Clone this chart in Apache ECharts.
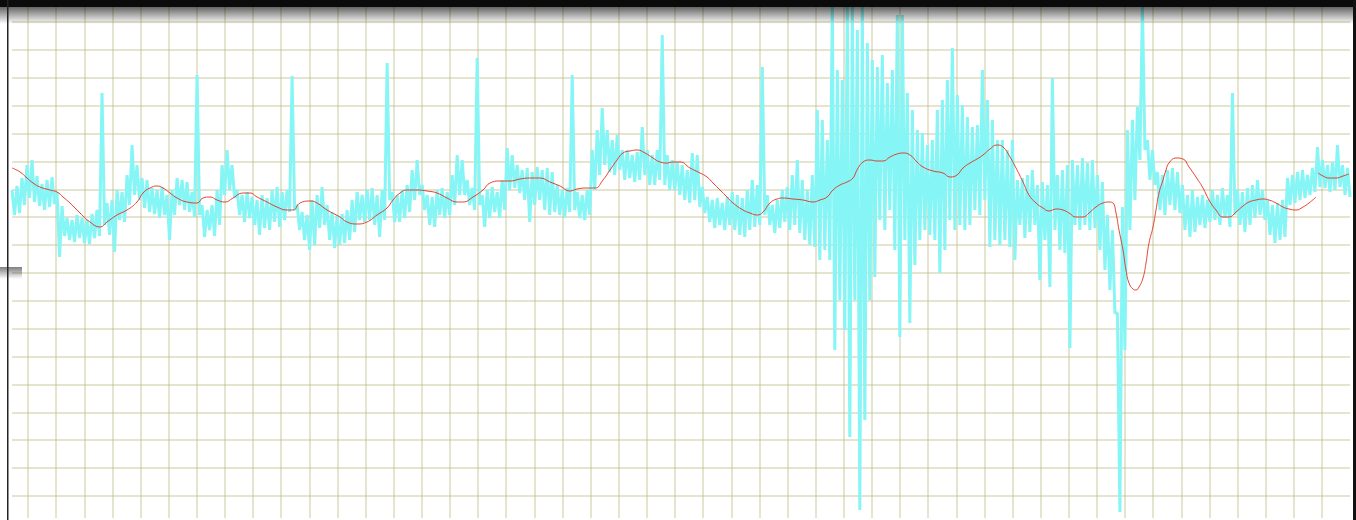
<!DOCTYPE html>
<html><head><meta charset="utf-8">
<script src="https://cdn.jsdelivr.net/npm/echarts/dist/echarts.min.js"></script>
<style>html,body{margin:0;padding:0;background:#fff;}#c{width:1356px;height:520px;}</style>
</head><body><div id="c"></div>
<script>
// Noisy signal: upper and lower envelope per sample (amplitude counts)
const cyanHigh = [
306,310,318,331,336,320,312,316,319,304,
290,278,276,281,278,276,282,286,403,293,
296,306,304,321,351,331,318,316,308,306,
309,301,306,318,316,314,304,421,291,286,
291,306,331,346,331,306,301,304,299,296,
301,298,306,309,304,306,420,291,284,281,
296,301,309,291,284,281,282,286,296,304,
301,306,308,301,306,433,304,301,306,311,
326,336,311,301,299,306,308,304,321,341,
336,316,308,438,301,306,309,304,316,348,
341,331,326,328,324,329,326,328,324,311,
306,308,421,304,301,306,346,366,388,366,
356,361,346,346,341,344,369,346,341,346,
461,341,336,334,331,326,343,341,309,299,
296,298,293,299,304,301,298,306,316,311,
429,301,291,296,306,309,321,336,316,306,
321,386,376,356,491,426,416,491,491,466,
491,453,436,429,441,413,426,481,481,403,
386,366,363,351,356,386,396,416,448,401,
391,379,369,371,426,396,376,356,356,346,
356,316,318,321,326,311,314,311,418,321,
326,331,336,331,338,333,336,321,314,281,
266,183,289,366,376,389,491,356,346,324,
321,326,328,324,311,301,306,299,301,296,
306,301,308,301,403,306,304,308,311,316,
306,296,291,293,296,318,321,324,326,321,
328,349,336,331,334,351,331,328
];
const cyanLow = [
281,283,291,298,294,290,286,289,292,239,
260,256,254,258,253,252,258,260,271,261,
244,276,274,291,301,296,288,284,282,278,
281,256,281,291,286,284,279,281,259,266,
260,271,301,306,298,281,274,278,271,261,
268,266,274,269,276,284,286,266,256,246,
251,268,271,256,248,251,253,256,264,276,
274,276,271,259,276,296,274,274,278,284,
296,301,286,271,269,281,278,281,291,301,
301,291,286,291,269,278,284,278,286,306,
308,303,296,274,291,296,286,281,284,281,
279,284,286,278,276,281,306,321,331,324,
321,326,316,318,314,316,321,311,311,316,
311,306,306,301,296,293,296,289,283,274,
268,271,266,271,266,261,259,266,269,271,
281,271,263,268,274,266,271,263,256,251,
249,236,246,236,146,196,166,59,196,-14,
76,196,219,276,266,286,246,159,256,173,
231,256,266,261,256,223,246,276,266,271,
266,271,286,281,296,249,256,251,256,249,
236,271,258,264,271,216,256,209,266,246,
243,148,271,266,271,266,268,246,226,206,
183,-16,146,266,296,336,346,316,311,286,
281,291,286,283,266,259,264,271,268,274,
276,271,278,269,281,271,264,271,278,281,
276,261,253,256,259,291,293,296,298,301,
304,309,308,304,306,309,301,299
];
// Smoothed trend: sample number and amplitude (null = gap)
const redX = [0,8,15,21,28,38,45,51,58,68,78,88,95,105,115,125,131,138,145,151,158,165,175,185,191,198,205,213,221,231,238,245,255,265,275,281,288,298,305,315,328,335,345,355,365,375,381,388,395,405,415,425,435,445,451,461,471,478,488,498,508,518,528,538,548,558,565,575,583,591,598,605,611,618,625,633,641,648,655,661,668,678,688,695,701,708,715,721,731,738,745,751,758,765,771,781,791,801,808,815,821,828,835,841,845,851,858,865,871,878,885,891,898,905,911,921,931,938,945,951,958,965,971,978,985,991,998,1004,1011,1017,1024,1031,1037,1044,1051,1057,1064,1071,1077,1084,1091,1097,1101,1104,1107,1111,1114,1117,1121,1124,1127,1131,1134,1137,1141,1144,1147,1151,1154,1157,1164,1171,1177,1184,1191,1197,1204,1211,1217,1224,1231,1237,1244,1251,1257,1264,1271,1277,1284,1291,1297,1304,1305,1306,1311,1317,1324,1331,1337];
const redY = [328,324,318,313,309,306,304,299,293,283,274,269,274,281,286,294,303,308,310,308,303,298,294,293,298,299,296,294,298,303,303,299,294,289,286,286,293,295,293,286,279,274,272,274,281,288,296,303,306,306,305,303,298,294,294,299,306,313,315,315,317,318,318,314,310,305,307,308,308,316,326,336,343,345,346,343,338,334,333,334,334,328,323,319,313,306,299,293,286,283,281,284,293,297,298,297,296,294,296,299,306,311,314,318,326,334,336,335,335,339,342,343,341,334,329,325,323,319,321,328,333,337,341,347,351,349,339,328,314,301,293,288,285,287,286,283,279,279,283,289,293,294,293,283,266,246,226,213,207,206,209,218,233,253,269,286,303,316,326,333,338,337,329,319,308,296,286,279,279,284,290,294,296,297,296,293,289,287,286,289,293,299,null,323,320,318,318,320,322];
const hDivisions = 17;
const vDivisions = 46;

const cyanData = [];
for (let i = 0; i < cyanHigh.length; i++) { cyanData.push(cyanHigh[i], cyanLow[i]); }
const cyanCats = cyanData.map((_, i) => i);
const redData = redX.map((x, i) => [x, redY[i] === null ? '-' : redY[i]]);

const gridLine = { show: true, lineStyle: { color: 'rgba(190,190,140,0.55)', width: 1.5 } };
const hidden = { axisLine: { show: false }, axisTick: { show: false }, axisLabel: { show: false } };

const chart = echarts.init(document.getElementById('c'), null, { renderer: 'canvas' });
chart.setOption({
  animation: false,
  backgroundColor: '#ffffff',
  grid: [
    { left: 12, top: 8, width: 1338, height: 510 },
    { left: 12, top: 22, width: 1338, height: 474 },
    { left: 28, top: 7, width: 1294, height: 511 }
  ],
  xAxis: [
    { gridIndex: 0, type: 'category', data: cyanCats, boundaryGap: false, show: false },
    { gridIndex: 0, type: 'value', min: 0, max: 1338, show: false },
    { gridIndex: 1, type: 'value', min: 0, max: 1, show: false },
    Object.assign({ gridIndex: 2, type: 'value', min: 0, max: vDivisions, interval: 1, splitLine: gridLine }, hidden)
  ],
  yAxis: [
    { gridIndex: 0, type: 'value', min: -22, max: 488, show: false },
    Object.assign({ gridIndex: 1, type: 'value', min: 0, max: hDivisions, interval: 1, splitLine: gridLine }, hidden),
    { gridIndex: 2, type: 'value', min: 0, max: 1, show: false }
  ],
  series: [
    {
      type: 'line', xAxisIndex: 0, yAxisIndex: 0, data: cyanData,
      showSymbol: false, symbol: 'none', z: 2,
      lineStyle: { color: '#86f5f5', width: 3, join: 'bevel' }
    },
    {
      type: 'line', xAxisIndex: 1, yAxisIndex: 0, data: redData,
      showSymbol: false, symbol: 'none', smooth: true, connectNulls: false, z: 3,
      lineStyle: { color: 'rgba(226,50,30,0.9)', width: 1 }
    }
  ],
  graphic: [
    { type: 'rect', z: 100, shape: { x: 0, y: 7, width: 1356, height: 17 },
      style: { fill: new echarts.graphic.LinearGradient(0, 0, 0, 1, [
        { offset: 0, color: 'rgba(0,0,0,0.6)' }, { offset: 1, color: 'rgba(0,0,0,0)' }]) } },
    { type: 'rect', z: 101, shape: { x: 0, y: 0, width: 1356, height: 7 }, style: { fill: '#0b0b0b' } },
    { type: 'rect', z: 101, shape: { x: 7, y: 0, width: 1.5, height: 520 }, style: { fill: '#222' } },
    { type: 'rect', z: 101, shape: { x: 1353, y: 0, width: 3, height: 520 }, style: { fill: '#111' } },
    { type: 'rect', z: 102, shape: { x: 0, y: 267, width: 22, height: 12 },
      style: { fill: new echarts.graphic.LinearGradient(0, 0, 0, 1, [
        { offset: 0, color: 'rgba(40,40,40,0.6)' }, { offset: 1, color: 'rgba(40,40,40,0)' }]) } }
  ]
});
</script>
</body></html>
